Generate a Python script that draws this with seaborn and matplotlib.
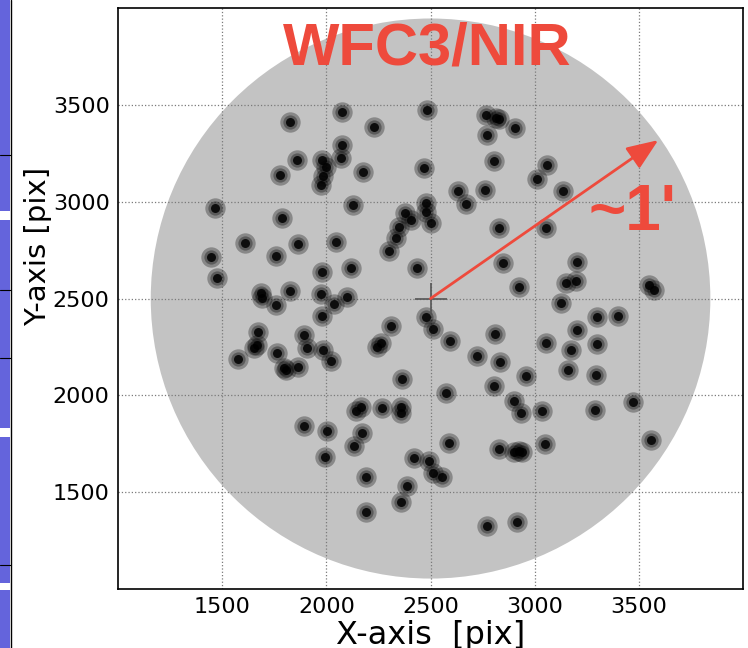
import matplotlib
matplotlib.use("Agg")
import matplotlib.pyplot as plt
from matplotlib.patches import Ellipse, Rectangle
from matplotlib.lines import Line2D
import pandas as pd
import seaborn as sns

# Source positions on the detector (pixels)
x_pix = [1826, 2077, 2229, 2077, 2069, 1859, 1776, 1980, 1999, 1984,
         1973, 2176, 1464, 1789, 2127, 1610, 1865, 2045, 1756, 1446,
         1474, 1981, 2117, 1686, 1693, 1758, 1825, 1973, 2036, 2101,
         1978,
         1673, 1665, 1653, 1578, 1762, 1797, 1806, 1865, 1893, 1909,
         1984, 2021, 1893, 2005, 1993, 2143, 2167, 2171, 2133, 2191,
         2191,
         2309, 2261, 2245, 2477, 2512, 2592, 2811, 2721, 2833, 3056,
         2960, 2803, 2362, 2573, 2266, 2357, 2357, 2900, 2934, 3035,
         2590, 2421, 2493, 2512, 2557, 2387, 2357, 2827, 2900, 2924,
         2940, 3047, 2772, 2916,
         3300, 3401, 3203, 3172, 3300, 3161, 3292, 3471, 3288, 3560,
         2482, 2765, 2813, 2829, 2770, 2905, 2469, 2805, 3059, 3013,
         2633, 2672, 2760, 2477, 2477, 2501, 2378, 2406, 2349, 2332,
         2300, 2437, 2829, 2849, 2924, 3055,
         3135, 3204, 3148, 3196, 3127, 3548, 3572]
y_pix = [3413, 3464, 3385, 3292, 3224, 3215, 3139, 3215, 3179, 3132,
         3086, 3155, 2970, 2914, 2983, 2787, 2783, 2790, 2719, 2713,
         2604, 2638, 2656, 2531, 2501, 2466, 2541, 2522, 2473, 2509,
         2412,
         2329, 2260, 2243, 2186, 2220, 2140, 2131, 2148, 2312, 2243,
         2234, 2177, 1843, 1817, 1680, 1919, 1940, 1808, 1741, 1578,
         1399,
         2358, 2269, 2251, 2407, 2343, 2282, 2316, 2203, 2174, 2269,
         2101, 2049, 2083, 2011, 1936, 1941, 1907, 1969, 1910, 1919,
         1752, 1678, 1663, 1597, 1576, 1532, 1449, 1722, 1710, 1713,
         1709, 1747, 1328, 1348,
         2403, 2410, 2337, 2236, 2264, 2131, 2104, 1967, 1924, 1769,
         3473, 3447, 3433, 3427, 3344, 3379, 3176, 3210, 3192, 3117,
         3055, 2986, 3060, 2992, 2948, 2892, 2944, 2905, 2867, 2811,
         2748, 2660, 2862, 2682, 2561, 2862,
         3055, 2690, 2578, 2590, 2475, 2570, 2544]

x_ticks = [1500, 2000, 2500, 3000, 3500]
y_ticks = [1500, 2000, 2500, 3000, 3500]
axis_range = (1000, 4000)

fov_center = (2500, 2500)
fov_radius_x = 1343
fov_radius_y = 1446
arrow_tip = (3593, 3318)

title_text = "WFC3/NIR"
scale_text = "~1'"
x_label = "X-axis  [pix]"
y_label = "Y-axis [pix]"

RED = "#ee4a3c"

sns.set_theme(style="white")
plt.rcParams["font.family"] = ["DejaVu Sans"]

fig = plt.figure(figsize=(7.48, 6.48), dpi=100)

# slide-panel strip along the left edge
strip_col = "#6464dc"
for y0, y1 in [(0.0, 0.09), (0.1, 0.325), (0.34, 0.66), (0.675, 1.0)]:
    fig.add_artist(Rectangle((0, y0), 10 / 748, y1 - y0, transform=fig.transFigure,
                             color=strip_col, lw=0))
fig.add_artist(Line2D([11 / 748, 11 / 748], [0, 1], transform=fig.transFigure,
                      color="black", lw=1.0))
for yy in [155, 290, 358, 565]:
    fig.add_artist(Line2D([0, 11 / 748], [1 - yy / 648] * 2, transform=fig.transFigure,
                          color="black", lw=0.8))

ax = fig.add_axes([0.1578, 0.0910, 0.8356, 0.8966])
ax.set_xlim(*axis_range)
ax.set_ylim(*axis_range)

# field of view
ax.add_patch(Ellipse(fov_center, 2 * fov_radius_x, 2 * fov_radius_y,
                     facecolor="#c3c3c3", edgecolor="none", zorder=1))

ax.set_axisbelow("line")
ax.grid(True, ls=":", color="#7a7a7a", lw=0.9)

df = pd.DataFrame({"x": x_pix, "y": y_pix})
for size, alpha in [(215, 0.30), (105, 0.33), (42, 0.85)]:
    sns.scatterplot(data=df, x="x", y="y", s=size, color="black", alpha=alpha,
                    linewidth=0, ax=ax, zorder=3, legend=False)

ax.plot([fov_center[0]], [fov_center[1]], marker="+", ms=23, mew=1.2,
        color="#555555", zorder=4)
ax.annotate("", xy=arrow_tip, xytext=fov_center,
            arrowprops=dict(arrowstyle="-|>,head_length=0.8,head_width=0.32",
                            color=RED, lw=2.0, shrinkA=0, shrinkB=0,
                            mutation_scale=24),
            zorder=5)

bold_font = ["Liberation Sans", "DejaVu Sans"]
ax.text(2485, 3706, title_text, color=RED, fontsize=43, fontweight="bold",
        family=bold_font, ha="center", va="baseline", zorder=6)
ax.text(3470, 2854, scale_text, color=RED, fontsize=46, fontweight="bold",
        family=bold_font, ha="center", va="baseline", zorder=6)

ax.set_xticks(x_ticks)
ax.set_yticks(y_ticks)
ax.tick_params(labelsize=16, length=0, pad=6, labelcolor="black")
ax.set_xlabel(x_label, fontsize=23, labelpad=2, color="black")
ax.set_ylabel(y_label, fontsize=21, color="black")
ax.yaxis.set_label_coords(-0.106, 0.59)

for sp in ax.spines.values():
    sp.set_color("black")
    sp.set_linewidth(1.2)

fig.savefig("out.png", dpi=100)
